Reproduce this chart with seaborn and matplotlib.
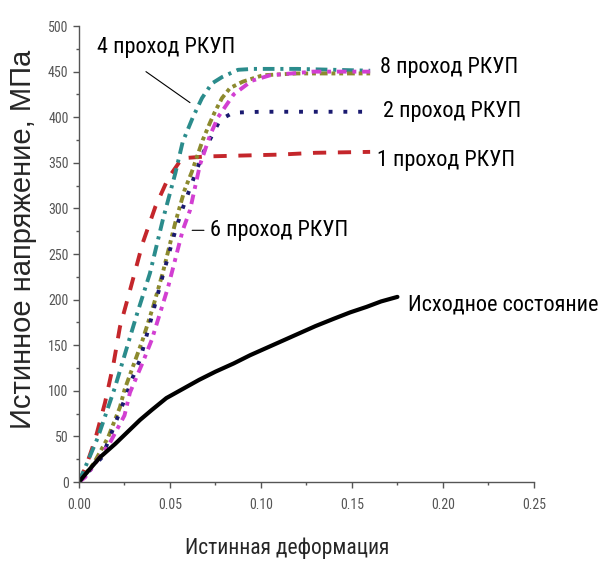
import matplotlib
matplotlib.use("Agg")
import matplotlib.pyplot as plt
import seaborn as sns
from matplotlib import font_manager as fm
from matplotlib.ticker import MultipleLocator

strain_orig = [0, 0.005, 0.0115, 0.02, 0.0335, 0.04, 0.048, 0.057, 0.066, 0.075, 0.085,
               0.094, 0.103, 0.112, 0.121, 0.130, 0.140, 0.149, 0.158, 0.166, 0.175]
stress_orig = [0, 12, 27, 42, 68, 79, 92, 102, 112, 121, 130, 139, 147, 155, 163, 171,
               179, 186, 192, 198, 203]

strain_p1 = [0, 0.004, 0.0088, 0.0143, 0.019, 0.0225, 0.028, 0.035, 0.042, 0.049, 0.0566,
             0.07, 0.09, 0.11, 0.13, 0.16]
stress_p1 = [0, 18, 46, 87, 130, 170, 210, 262, 302, 333, 355, 357, 358, 359, 361, 362]

strain_p2 = [0, 0.0126, 0.025, 0.029, 0.0335, 0.039, 0.046, 0.053, 0.0566, 0.061, 0.068,
             0.0775, 0.0846, 0.10, 0.13, 0.16]
stress_p2 = [0, 27, 90, 112, 134, 174, 226, 276, 298, 322, 360, 397, 405, 406, 406, 406]

strain_p4 = [0, 0.0104, 0.0198, 0.027, 0.032, 0.039, 0.046, 0.053, 0.057, 0.0626, 0.0676,
             0.073, 0.0786, 0.0874, 0.0956, 0.12, 0.14, 0.16]
stress_p4 = [0, 49, 104, 152, 185, 229, 287, 339, 373, 400, 421, 437, 444, 452, 453, 453, 452, 451]

strain_p6 = [0, 0.0033, 0.017, 0.025, 0.028, 0.035, 0.040, 0.0456, 0.049, 0.057, 0.061,
             0.0665, 0.072, 0.0764, 0.085, 0.095, 0.105, 0.1286, 0.16]
stress_p6 = [0, 5, 43, 73, 98, 131, 156, 192, 214, 276, 298, 348, 380, 400, 425, 440, 446, 450, 450]

strain_p8 = [0, 0.008, 0.016, 0.0225, 0.025, 0.031, 0.035, 0.0407, 0.046, 0.053, 0.058,
             0.062, 0.068, 0.072, 0.0747, 0.0786, 0.083, 0.090, 0.101, 0.12, 0.16]
stress_p8 = [0, 20, 49, 82, 101, 134, 156, 192, 229, 285, 320, 340, 375, 394, 406, 421,
             432, 439, 446, 448, 448]

sns.set_theme(style="ticks")
plt.rcParams["font.family"] = ["Liberation Sans", "DejaVu Sans"]

# the source uses a narrow font; fall back to a smaller regular one
installed = {f.name for f in fm.fontManager.ttflist}
narrow, big, small = ["Liberation Sans", "DejaVu Sans"], 13.5, 9
for cand in ("Liberation Sans Narrow", "Roboto Condensed", "Open Sans Condensed"):
    if cand in installed:
        narrow, big, small = [cand, "DejaVu Sans"], 16, 10
        break

fig = plt.figure(figsize=(6.09, 5.61), dpi=100)
ax = fig.add_axes([0.1297, 0.1408, 0.747, 0.8128])

curves = [
    (strain_p1, stress_p1, "#c4262b", (3.4, 3)),
    (strain_p4, stress_p4, "#2b8c8c", (3, 1.5, 0.8, 1.5)),
    (strain_p8, stress_p8, "#8c8a2e", (2, 1, 1, 1, 1, 1)),
    (strain_p2, stress_p2, "#1a1a70", (1, 2.8)),
    (strain_p6, stress_p6, "#d23fd2", (2.5, 1.5, 1, 1.5)),
]
for xs, ys, col, dash in curves:
    sns.lineplot(x=xs, y=ys, ax=ax, color=col, linewidth=2.8, sort=False)
    ax.lines[-1].set_dashes(dash)

sns.lineplot(x=strain_orig, y=stress_orig, ax=ax, color="black", linewidth=3, sort=False)

ax.set_xlim(0, 0.25)
ax.set_ylim(0, 500)
ax.xaxis.set_major_locator(MultipleLocator(0.05))
ax.xaxis.set_minor_locator(MultipleLocator(0.025))
ax.yaxis.set_major_locator(MultipleLocator(50))
ax.yaxis.set_minor_locator(MultipleLocator(25))
ax.set_xticklabels([f"{v:.2f}" for v in ax.get_xticks()])
for lab in ax.get_xticklabels() + ax.get_yticklabels():
    lab.set_fontfamily(narrow)
    lab.set_fontsize(small)
    lab.set_color("#555555")
ax.tick_params(which="major", length=4.5, width=1, color="#555555")
ax.tick_params(axis="x", pad=7)
ax.tick_params(axis="y", pad=3)
ax.tick_params(which="minor", length=2.5, width=1, color="#555555")
sns.despine(ax=ax)
for s in ("left", "bottom"):
    ax.spines[s].set_color("#555555")
    ax.spines[s].set_linewidth(1)

ax.set_xlabel("Истинная деформация", fontsize=big - 0.5, family=narrow)
ax.xaxis.set_label_coords(0.457, -0.122)
ax.set_ylabel("Истинное напряжение, МПа", fontsize=21)
ax.yaxis.set_label_coords(-0.093, 0.532)

tk = dict(fontsize=big, family=narrow, color="black", va="center", ha="left")
ax.text(0.0099, 477, "4 проход РКУП", **tk)
ax.annotate("", xy=(0.061, 416), xytext=(0.0368, 450),
            arrowprops=dict(arrowstyle="-", color="black", lw=0.8, shrinkA=0, shrinkB=0))
ax.text(0.1654, 454, "8 проход РКУП", **tk)
ax.text(0.167, 406, "2 проход РКУП", **tk)
ax.text(0.1637, 353, "1 проход РКУП", **tk)
ax.annotate("6 проход РКУП", xy=(0.0622, 276), xytext=(0.072, 276),
            arrowprops=dict(arrowstyle="-", color="black", lw=0.8, shrinkA=2, shrinkB=0), **tk)
ax.text(0.1808, 194, "Исходное состояние", **tk)

fig.savefig("out.png", dpi=100)
